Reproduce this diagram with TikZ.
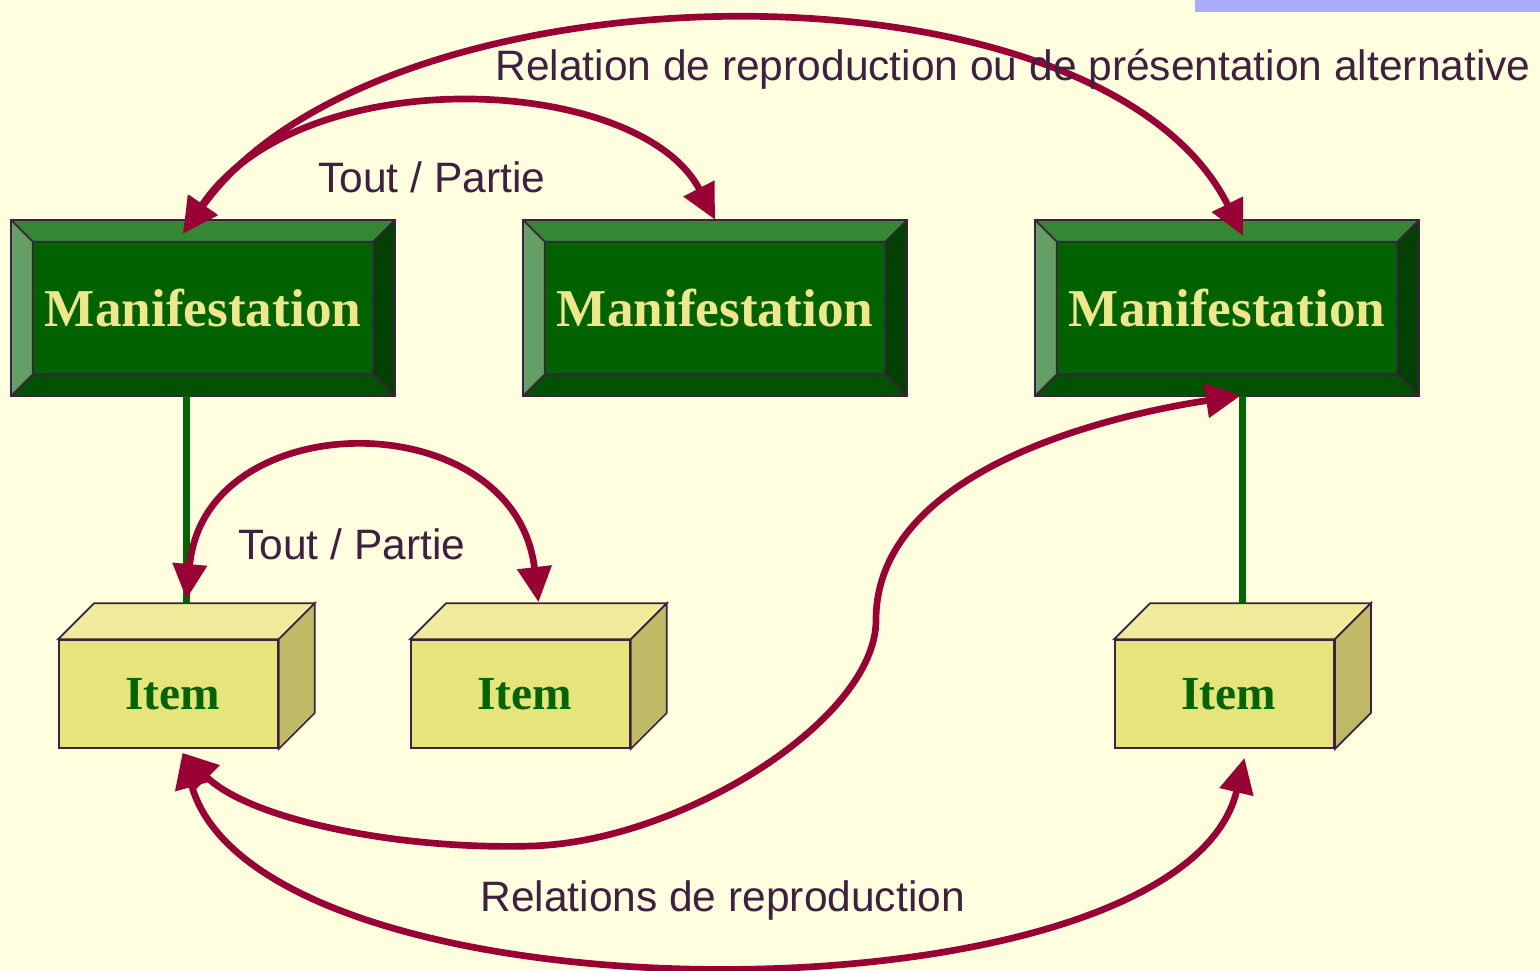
\documentclass[tikz,border=0pt]{standalone}
\usepackage{fontspec}
\setmainfont{Liberation Serif}
\newfontfamily\labelfont{Liberation Sans}
\usepackage{tikz}
\usetikzlibrary{arrows.meta}

\definecolor{bg}{RGB}{255,255,224}
\definecolor{bar}{RGB}{170,170,255}
\definecolor{edge}{RGB}{64,32,64}
\definecolor{txt}{RGB}{64,32,64}
\definecolor{relred}{RGB}{153,0,51}
\definecolor{lgreen}{RGB}{0,102,0}
\definecolor{mcenter}{RGB}{0,98,0}
\definecolor{mtop}{RGB}{52,136,52}
\definecolor{mleft}{RGB}{100,160,100}
\definecolor{mright}{RGB}{0,64,0}
\definecolor{mbottom}{RGB}{0,82,0}
\definecolor{khaki}{RGB}{240,230,140}
\definecolor{ifront}{RGB}{232,228,124}
\definecolor{itop}{RGB}{240,234,154}
\definecolor{iside}{RGB}{190,186,102}
\definecolor{igreen}{RGB}{0,100,0}

\begin{document}
\begin{tikzpicture}[x=0.02cm,y=-0.02cm,
	manif/.style={fill=mcenter,minimum width=7.68cm,minimum height=3.52cm,inner sep=0pt,font=\fontsize{30.3}{36}\selectfont\bfseries,text=khaki},
	item/.style={draw=edge,line width=1pt,fill=ifront,minimum width=4.38cm,minimum height=2.16cm,inner sep=0pt,font=\fontsize{27}{32}\selectfont\bfseries,text=igreen},
	rel/.style={draw=relred,line width=3.8pt,{Triangle[length=20pt,width=19pt]}-{Triangle[length=20pt,width=19pt]}},
	link/.style={draw=lgreen,line width=4.3pt},
	lbl/.style={font=\labelfont\fontsize{24.2}{28}\selectfont,text=txt,inner sep=0pt,anchor=base west}]
	\path[use as bounding box,fill=bg] (0,0) rectangle (1540,970);
	\fill[bar] (1195,0) rectangle (1540,12);

	\node[manif] (m1) at (203,308) {Manifestation};
	\node[manif] (m2) at (715,308) {Manifestation};
	\node[manif] (m3) at (1227,308) {Manifestation};
	\node[item] (i1) at (168.5,694) {\hspace{5pt}Item};
	\node[item] (i2) at (520.5,694) {\hspace{5pt}Item};
	\node[item] (i3) at (1224.5,694) {\hspace{5pt}Item};

	\foreach \m in {m1,m2,m3}{
		\fill[mtop] (\m.north west) -- (\m.north east) -- ([shift={(-22,22)}]\m.north east) -- ([shift={(22,22)}]\m.north west) -- cycle;
		\fill[mleft] (\m.north west) -- ([shift={(22,22)}]\m.north west) -- ([shift={(22,-22)}]\m.south west) -- (\m.south west) -- cycle;
		\fill[mright] (\m.north east) -- ([shift={(-22,22)}]\m.north east) -- ([shift={(-22,-22)}]\m.south east) -- (\m.south east) -- cycle;
		\fill[mbottom] (\m.south west) -- ([shift={(22,-22)}]\m.south west) -- ([shift={(-22,-22)}]\m.south east) -- (\m.south east) -- cycle;
		\draw[edge,line width=1pt] ([shift={(22,22)}]\m.north west) rectangle ([shift={(-22,-22)}]\m.south east)
			(\m.north west) -- ([shift={(22,22)}]\m.north west) (\m.north east) -- ([shift={(-22,22)}]\m.north east)
			(\m.south west) -- ([shift={(22,-22)}]\m.south west) (\m.south east) -- ([shift={(-22,-22)}]\m.south east);
		\draw[edge,line width=1.2pt] (\m.north west) rectangle (\m.south east);
	}
	\foreach \i in {i1,i2,i3}{
		\filldraw[fill=itop,draw=edge,line width=1pt] (\i.north west) -- ([shift={(36,-36)}]\i.north west) -- ([shift={(36,-36)}]\i.north east) -- (\i.north east) -- cycle;
		\filldraw[fill=iside,draw=edge,line width=1pt] (\i.north east) -- ([shift={(36,-36)}]\i.north east) -- ([shift={(36,-36)}]\i.south east) -- (\i.south east) -- cycle;
	}

	\coordinate (i1top) at ([shift={(18,-36)}]i1.north);
	\coordinate (i3top) at ([shift={(18,-36)}]i3.north);
	\draw[link] (i1top) -- (i1top |- m1.south);
	\draw[link] (i3top) -- (i3top |- m3.south);

	\coordinate (m1in) at ([shift={(-20,14)}]m1.north);
	\coordinate (m3in) at ([shift={(16,16)}]m3.north);
	\coordinate (m3out) at ([shift={(14,-1)}]m3.south);
	\coordinate (i1in) at ([shift={(18,-40)}]i1.north);
	\coordinate (i2in) at ([shift={(18,-37)}]i2.north);
	\coordinate (i1out) at ([shift={(14,4)}]i1.south);
	\coordinate (i3out) at ([shift={(20,9)}]i3.south);

	\draw[rel] (m1in) .. controls (380,-42) and (1100,-52) .. (m3in);
	\draw[rel] (m1in) .. controls (300,58) and (640,74) .. (m2.north);
	\draw[rel] (i1in) .. controls (205,402) and (515,402) .. (i2in);
	\draw[rel] (i1out) .. controls (250,820) and (400,850) .. (531,846)
		.. controls (680,842) and (876,720) .. (876,620)
		.. controls (876,480) and (1080,420) .. (m3out);
	\draw[rel] (i1out) .. controls (260,1030) and (1180,1030) .. (i3out);

	\node[lbl] (lblalt) at (495,80) {Relation de reproduction ou de présentation alternative};
	\node[lbl] (lbltp1) at (318,192) {Tout / Partie};
	\node[lbl] (lbltp2) at (238,559) {Tout / Partie};
	\node[lbl] (lblrep) at (480,911) {Relations de reproduction};
\end{tikzpicture}
\end{document}
